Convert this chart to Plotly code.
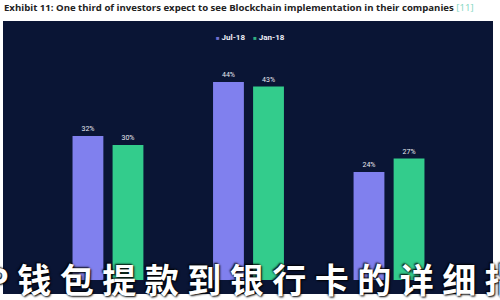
import plotly.graph_objects as go

categories = ["Group A", "Group B", "Group C"]
jul18 = [32, 44, 24]
jan18 = [30, 43, 27]
series_names = ["Jul-18", "Jan-18"]
title_text = "Exhibit 11: One third of investors expect to see Blockchain implementation in their companies"
ref_text = "[11]"
overlay_text = "P钱包提款到银行卡的详细指"

PURPLE = "#8080ee"
GREEN = "#33cc8c"
NAVY = "#0a1535"
colors = [PURPLE, GREEN]

fig = go.Figure()
for name, vals, col in zip(series_names, [jul18, jan18], colors):
    fig.add_trace(go.Bar(
        x=categories, y=vals, name=name, marker_color=col, marker_line_width=0,
        texttemplate="%{y}%", textposition="outside",
        textfont=dict(size=7, color="#e8e8f0", family="Roboto"),
        cliponaxis=False, showlegend=False,
    ))

W, H = 500, 300
l, r, t, b = 3, 7, 21, 6
pw = W - l - r
ph = H - t - b

def px_x(x):
    return (x - l) / pw

def px_y(y):
    return (H - b - y) / ph

fig.update_layout(
    width=W, height=H,
    margin=dict(l=l, r=r, t=t, b=b, pad=0),
    paper_bgcolor="white", plot_bgcolor=NAVY,
    barmode="group", bargap=0.43, bargroupgap=0.23,
    showlegend=False,
    xaxis=dict(type="category", range=[-0.747, 2.74], showgrid=False, zeroline=False,
               showticklabels=False, showline=False, ticks=""),
    yaxis=dict(range=[-3.11, 57.56], showgrid=False, zeroline=False,
               showticklabels=False, showline=False, ticks=""),
)

# legend drawn as text
legend_html = "\u2003".join(
    f"<span style='color:{c};font-size:6px'>■</span> <b>{n}</b>" for n, c in zip(series_names, ["#7070d0", "#2fae80"])
)
fig.add_annotation(
    xref="paper", yref="paper", x=px_x(250), y=px_y(37), xanchor="center", yanchor="middle",
    text=legend_html, showarrow=False, font=dict(size=8, color="#f0f0f8", family="Roboto"),
)

fig.add_annotation(
    xref="paper", yref="paper", x=px_x(2), y=px_y(8), xanchor="left", yanchor="middle",
    text=f"<b>{title_text}</b> <span style='color:#7fd6c0'>{ref_text}</span>",
    showarrow=False, font=dict(size=9.6, color="#222222", family="Open Sans"),
)

fig.add_annotation(
    xref="paper", yref="paper", x=px_x(252), y=px_y(278),
    xanchor="center", yanchor="middle",
    text="\u2005".join(overlay_text),
    showarrow=False,
    font=dict(size=34, color="white", family="Noto Sans CJK SC", weight=700,
              shadow="1px 1px 2px #000, -1px -1px 2px #000"),
)

fig.write_html("out.html")
